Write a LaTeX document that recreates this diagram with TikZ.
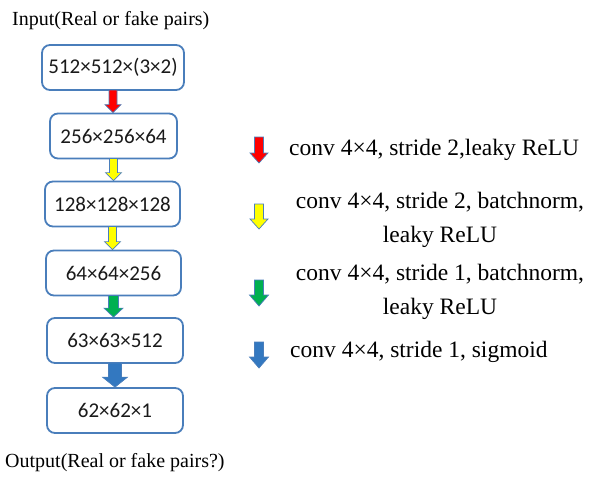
\documentclass[tikz,border=0pt]{standalone}
\usepackage{fontspec}
\setmainfont{Liberation Serif}
\newfontfamily\boxfont{Carlito}
\usetikzlibrary{calc}
\definecolor{boxblue}{HTML}{4A7EBB}
\definecolor{arrred}{HTML}{FF0000}
\definecolor{arryellow}{HTML}{FFFF00}
\definecolor{arrgreen}{HTML}{00B050}
\definecolor{arrblue}{HTML}{3378C0}
\definecolor{boxtext}{HTML}{1A1A1A}
% block arrow: from, to, half shaft, half head, head length, colour
\newcommand{\blockarrow}[6]{%
  \path let \p1=(#1), \p2=(#2) in
    [fill=#6, draw=boxblue, line width=0.7pt, line join=miter]
    (\x1-#3pt,\y1) -- (\x1+#3pt,\y1) -- (\x1+#3pt,\y2+#5pt) -- (\x1+#4pt,\y2+#5pt)
    -- (\x1,\y2) -- (\x1-#4pt,\y2+#5pt) -- (\x1-#3pt,\y2+#5pt) -- cycle;}
\tikzset{
  layerbox/.style={draw=boxblue, line width=1.8pt, rounded corners=8pt, fill=white,
    minimum height=45pt, inner sep=0pt, font=\boxfont\fontsize{21}{24}\selectfont,
    text=boxtext},
  caption/.style={font=\fontsize{20}{24}\selectfont, inner sep=0pt},
  legendtext/.style={font=\fontsize{23.5}{34}\selectfont, inner sep=0pt, align=center},
}
\begin{document}
\begin{tikzpicture}[x=1pt, y=-1pt]
\useasboundingbox (0,0) rectangle (592,479);
% captions
\node[caption, anchor=base west] (inlabel) at (12,25) {Input(Real or fake pairs)};
\node[caption, anchor=base west] (outlabel) at (5,467) {Output(Real or fake pairs?)};
% boxes
\node[layerbox, minimum width=142pt] (b1) at (113,67.5) {512×512×(3×2)};
\node[layerbox, minimum width=127pt] (b2) at (113.5,136) {256×256×64};
\node[layerbox, minimum width=135pt] (b3) at (112.5,204) {128×128×128};
\node[layerbox, minimum width=135pt] (b4) at (113.5,273) {64×64×256};
\node[layerbox, minimum width=136pt] (b5) at (115,340.5) {63×63×512};
\node[layerbox, minimum width=136pt] (b6) at (115,410.5) {62×62×1};
% connector arrows
\coordinate (a1s) at ($(b1.south)+(0,-0.9)$);
\coordinate (a1e) at (b2.north -| a1s);
\coordinate (a2s) at ($(b2.south)+(0,-0.9)$);
\coordinate (a2e) at (b3.north -| a2s);
\coordinate (a3s) at ($(b3.south)+(0,-0.9)$);
\coordinate (a3e) at (b4.north -| a3s);
\coordinate (a4s) at ($(b4.south)+(0,-0.9)$);
\coordinate (a4e) at (b5.north -| a4s);
\coordinate (a5s) at ($(b5.south)+(0,-0.9)$);
\coordinate (a5e) at (b6.north -| a5s);
\blockarrow{a1s}{a1e}{4}{8}{8}{arrred}
\blockarrow{a2s}{a2e}{4}{8}{8}{arryellow}
\blockarrow{a3s}{a3e}{4}{8}{8}{arryellow}
\blockarrow{a4s}{a4e}{5}{9.5}{9}{arrgreen}
\blockarrow{a5s}{a5e}{6.5}{12.5}{10}{arrblue}
% legend
\coordinate (l1s) at (259,137); \coordinate (l1e) at (259,163);
\coordinate (l2s) at (259,204); \coordinate (l2e) at (259,229);
\coordinate (l3s) at (259,280); \coordinate (l3e) at (259,306);
\coordinate (l4s) at (259,342); \coordinate (l4e) at (259,368);
\blockarrow{l1s}{l1e}{4.5}{9}{10}{arrred}
\blockarrow{l2s}{l2e}{4.5}{9}{10}{arryellow}
\blockarrow{l3s}{l3e}{4.5}{9.5}{11}{arrgreen}
\blockarrow{l4s}{l4e}{4.5}{9.5}{11}{arrblue}
\node[legendtext, anchor=west] (t1) at (289,150) {conv 4×4, stride 2,leaky ReLU};
\node[legendtext] (t2) at (440,220) {conv 4×4, stride 2, batchnorm,\\leaky ReLU};
\node[legendtext] (t3) at (440,292) {conv 4×4, stride 1, batchnorm,\\leaky ReLU};
\node[legendtext, anchor=west] (t4) at (290,352) {conv 4×4, stride 1, sigmoid};
\end{tikzpicture}
\end{document}
